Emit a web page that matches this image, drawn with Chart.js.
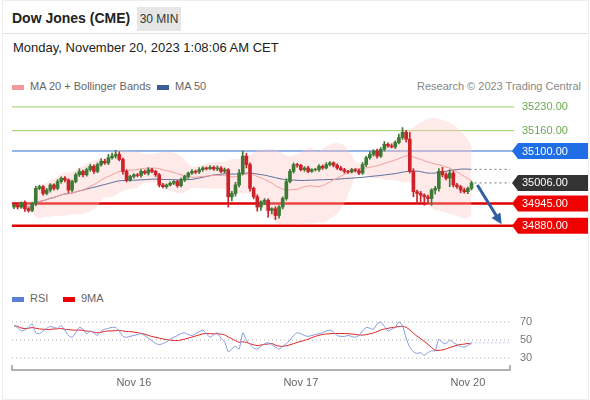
<!DOCTYPE html>
<html><head><meta charset="utf-8">
<script src="https://cdn.jsdelivr.net/npm/chart.js@4.4.0/dist/chart.umd.min.js"></script>
<style>
body{margin:0;width:590px;height:400px;background:#fff;font-family:"Liberation Sans",Arial,sans-serif;position:relative;overflow:hidden}
.frame{position:absolute;left:2px;top:0;width:585px;height:398px;border:1px solid #eee}
#title{position:absolute;left:12px;top:10px;font-size:14px;font-weight:bold;color:#222}
#tf{position:absolute;left:137px;top:7px;width:44px;height:24px;background:#e6e6e6;font-size:12px;color:#333;line-height:24px;text-align:center}
#sep{position:absolute;left:2px;top:33px;width:586px;border-top:1px solid #e3e3e3}
#date{position:absolute;left:13px;top:40px;font-size:13px;color:#222}
.leg{position:absolute;font-size:11px;color:#666;white-space:nowrap}
.sw{display:inline-block;width:12px;height:5px;vertical-align:middle;margin-right:6px}
canvas{position:absolute;left:0}
</style></head><body>
<div class="frame"></div>
<div id="title">Dow Jones (CME)</div><div id="tf">30 MIN</div><div id="sep"></div>
<div id="date">Monday, November 20, 2023 1:08:06 AM CET</div>
<div class="leg" style="left:12px;top:80px"><span class="sw" style="background:#f59a9a"></span>MA 20 + Bollinger Bands</div>
<div class="leg" style="left:157px;top:80px"><span class="sw" style="background:#3b5d9a"></span>MA 50</div>
<div class="leg" style="right:9px;top:80px;color:#888">Research © 2023 Trading Central</div>
<div class="leg" style="left:12px;top:292px"><span class="sw" style="background:#5b7fd6"></span>RSI</div>
<div class="leg" style="left:63px;top:292px"><span class="sw" style="background:#e00"></span>9MA</div>
<div style="position:absolute;left:0;top:95px;width:590px;height:185px"><canvas id="main"></canvas></div>
<div style="position:absolute;left:0;top:310px;width:590px;height:85px"><canvas id="rsi"></canvas></div>
<script>
const closes=[34940,34935,34948,34930,34925,34945,34990,34995,34975,34985,35000,34990,35010,35020,35015,34985,35010,35030,35040,35030,35045,35055,35040,35060,35070,35065,35080,35085,35090,35075,35040,35015,35025,35030,35028,35040,35035,35045,35040,35030,35000,34995,35000,35005,35010,34998,35015,35025,35035,35040,35038,35045,35050,35048,35052,35047,35050,35040,35045,34965,34975,35000,35035,35085,35060,34990,34965,34935,34950,34955,34925,34930,34910,34935,34960,35010,35040,35060,35058,35045,35050,35040,35045,35045,35055,35050,35060,35065,35058,35050,35045,35040,35038,35045,35042,35035,35060,35080,35090,35100,35085,35105,35120,35115,35112,35125,35140,35155,35135,35040,34980,34975,34970,34965,34960,34985,34990,35040,35030,35020,35035,35000,34995,34985,34980,34990,35006];
const wickUp=[3,4,2,5,3,4,6,4,3,5,4,3,6,4,5,3,4,5,8,4,5,6,4,5,8,6,10,9,12,8,4,5,4,3,4,5,4,6,4,3,4,5,3,4,3,4,5,4,3,5,4,6,4,3,5,4,6,4,5,3,6,8,10,15,8,5,4,6,3,5,4,3,6,4,5,8,6,5,4,3,4,5,3,4,5,4,6,4,3,4,5,4,3,4,3,4,6,5,8,4,6,5,8,4,6,5,10,14,6,20,8,5,6,4,5,4,6,8,12,6,10,6,5,4,6,4,5];
const wickDown=[5,6,4,8,5,4,6,4,5,4,6,5,4,5,6,8,5,4,5,6,4,5,6,4,5,4,5,4,6,4,8,6,4,5,4,5,4,6,4,5,6,4,5,3,4,5,4,5,6,4,5,4,5,4,3,4,5,4,5,30,12,8,6,5,10,8,6,12,10,8,20,10,12,8,6,5,4,5,6,4,5,4,3,4,5,4,3,4,5,4,3,5,4,3,4,5,4,6,4,5,6,4,5,4,3,5,4,6,8,5,15,30,20,25,15,20,12,8,6,5,25,6,5,8,4,6,5];
const rsiVals=[66,64,60,61,64,68,58,57,60,63,65,64,63,66,61,55,53,58,64,62,57,60,58,55,60,62,63,64,64,60,54,53,54,55,56,57,55,52,49,46,45,46,48,51,53,55,57,58,56,55,57,59,61,57,53,56,58,52,48,37,40,43,40,58,50,45,41,40,43,46,47,45,42,40,43,46,50,55,58,57,55,54,55,56,57,58,60,61,59,55,54,54,55,54,53,55,60,64,63,62,68,70,65,60,62,64,70,66,52,42,37,35,36,33,36,38,38,51,47,46,50,47,45,43,42,44,47];
const levels=[{v:35230,c:'#9ccc65',t:'35230.00',box:null,w:1},{v:35160,c:'#9ccc65',t:'35160.00',box:null,w:1},{v:35100,c:'#2f6fd6',t:'35100.00',box:'#1f6ee6',w:1.2},{v:34945,c:'#e00000',t:'34945.00',box:'#f00000',w:2.5},{v:34880,c:'#e00000',t:'34880.00',box:'#f00000',w:2.5}];
const lastPrice=35006, dateTicks=[{i:33,t:'Nov 16'},{i:79,t:'Nov 17'},{i:125,t:'Nov 20'}];
const XMIN=-0.55, XMAX=136.6;

const opens=closes.map((c,i)=>i?closes[i-1]:c-5);
const body=[],wick=[],cols=[];
closes.forEach((c,i)=>{const o=opens[i];body.push({x:i,y:[o,c===o?c+1:c]});wick.push({x:i,y:[Math.min(o,c)-wickDown[i],Math.max(o,c)+wickUp[i]]});cols.push(c>=o?'#3d7a35':'#cc2229');});
function ma(arr,n){return arr.map((_,i)=>{const s=arr.slice(Math.max(0,i-n+1),i+1);return s.reduce((a,b)=>a+b,0)/s.length;});}
const m20=ma(closes,20),m50=ma(closes,50);
const sd=closes.map((_,i)=>{const s=closes.slice(Math.max(0,i-19),i+1);const m=m20[i];return Math.sqrt(s.reduce((a,b)=>a+(b-m)**2,0)/s.length);});
const up=m20.map((m,i)=>({x:i,y:m+2*sd[i]})),lo=m20.map((m,i)=>({x:i,y:m-2*sd[i]}));

function tag(ctx,x,y,text,bg,fg){ctx.save();ctx.font='11px "Liberation Sans",Arial';if(bg){ctx.fillStyle=bg;ctx.beginPath();ctx.moveTo(x,y);ctx.lineTo(x+6,y-8);ctx.lineTo(x+76,y-8);ctx.lineTo(x+76,y+8);ctx.lineTo(x+6,y+8);ctx.closePath();ctx.fill();}
ctx.fillStyle=fg;ctx.textBaseline='middle';ctx.fillText(text,x+10,y+0.5);ctx.restore();}
const mainPlug={id:'mp',beforeDatasetsDraw(ch){const {ctx,scales:{x,y},chartArea:a}=ch;ctx.save();
levels.forEach(l=>{const py=y.getPixelForValue(l.v);ctx.strokeStyle=l.c;ctx.lineWidth=l.w;ctx.beginPath();ctx.moveTo(a.left,py);ctx.lineTo(a.right+4,py);ctx.stroke();});
ctx.setLineDash([2,3]);ctx.strokeStyle='#777';ctx.lineWidth=1;const lp=y.getPixelForValue(lastPrice);ctx.beginPath();ctx.moveTo(x.getPixelForValue(126)+3,lp);ctx.lineTo(a.right,lp);ctx.stroke();
const mp=y.getPixelForValue(m50[126]);ctx.beginPath();ctx.moveTo(x.getPixelForValue(126)+3,mp);ctx.lineTo(a.right,mp);ctx.stroke();ctx.restore();},
afterDraw(ch){const {ctx,scales:{x,y},chartArea:a}=ch;
levels.forEach(l=>tag(ctx,a.right+2,y.getPixelForValue(l.v),l.t,l.box,l.box?'#fff':'#6aa84f'));
tag(ctx,a.right+2,y.getPixelForValue(lastPrice),'35006.00','#333','#fff');
const x1=x.getPixelForValue(127.6),y1=y.getPixelForValue(35000),x2=x.getPixelForValue(134.3),y2=y.getPixelForValue(34884);
ctx.save();ctx.strokeStyle='#2f5fa0';ctx.fillStyle='#2f5fa0';ctx.lineWidth=3;ctx.beginPath();ctx.moveTo(x1,y1);const ang=Math.atan2(y2-y1,x2-x1);ctx.lineTo(x2-8*Math.cos(ang),y2-8*Math.sin(ang));ctx.stroke();
ctx.beginPath();ctx.moveTo(x2,y2);ctx.lineTo(x2-12*Math.cos(ang-0.45),y2-12*Math.sin(ang-0.45));ctx.lineTo(x2-12*Math.cos(ang+0.45),y2-12*Math.sin(ang+0.45));ctx.closePath();ctx.fill();ctx.restore();}};
new Chart(document.getElementById('main'),{data:{datasets:[
{type:'line',data:up,borderWidth:0,pointRadius:0,fill:'+1',backgroundColor:'rgba(255,195,195,0.35)',tension:0.4,order:5},
{type:'line',data:lo,borderWidth:0,pointRadius:0,fill:false,tension:0.4,order:5},
{type:'line',data:m20.map((v,i)=>({x:i,y:v})),borderColor:'#f39a9a',borderWidth:1,pointRadius:0,tension:0.3,order:4},
{type:'line',data:m50.map((v,i)=>({x:i,y:v})),borderColor:'#5a6f98',borderWidth:1,pointRadius:0,tension:0.3,order:4},
{type:'bar',data:wick,backgroundColor:cols,barThickness:1,grouped:false,order:2},
{type:'bar',data:body,backgroundColor:cols,barThickness:3,grouped:false,order:1}]},
options:{responsive:true,maintainAspectRatio:false,animation:false,layout:{padding:{left:12,right:80,top:0,bottom:0}},plugins:{legend:{display:false},tooltip:{enabled:false}},
scales:{x:{type:'linear',min:XMIN,max:XMAX,offset:false,bounds:'ticks',display:false},y:{min:34720,max:35265,display:false}}},plugins:[mainPlug]});

const rsiMA=ma(rsiVals,9);
const rsiPlug={id:'rp',beforeDatasetsDraw(ch){const {ctx,scales:{x,y},chartArea:a}=ch;ctx.save();ctx.setLineDash([1,3]);ctx.strokeStyle='#aaa';ctx.lineWidth=1;
[70,50,30].forEach(v=>{const py=y.getPixelForValue(v);ctx.beginPath();ctx.moveTo(a.left,py);ctx.lineTo(a.right,py);ctx.stroke();});
ctx.strokeStyle='#8fa6e0';const rp=y.getPixelForValue(rsiVals[126]);ctx.beginPath();ctx.moveTo(x.getPixelForValue(126),rp);ctx.lineTo(a.right,rp);ctx.stroke();ctx.restore();},
afterDraw(ch){const {ctx,scales:{x,y},chartArea:a}=ch;ctx.save();ctx.font='11px "Liberation Sans",Arial';ctx.fillStyle='#777';ctx.textBaseline='middle';
[70,50,30].forEach(v=>ctx.fillText(String(v),a.right+10,y.getPixelForValue(v)));
ctx.strokeStyle='#999';ctx.lineWidth=1.5;ctx.beginPath();ctx.moveTo(a.left,a.bottom-5);ctx.lineTo(a.left,a.bottom);ctx.lineTo(a.right,a.bottom);ctx.lineTo(a.right,a.bottom-5);ctx.stroke();
ctx.textAlign='center';ctx.fillStyle='#666';dateTicks.forEach(d=>ctx.fillText(d.t,x.getPixelForValue(d.i),a.bottom+13));ctx.restore();}};
new Chart(document.getElementById('rsi'),{type:'line',data:{datasets:[
{data:rsiVals.map((v,i)=>({x:i,y:v})),borderColor:'#7f97dc',borderWidth:1,pointRadius:0,tension:0.2},
{data:rsiMA.map((v,i)=>({x:i,y:v})),borderColor:'#e02020',borderWidth:1,pointRadius:0,tension:0.3}]},
options:{responsive:true,maintainAspectRatio:false,animation:false,layout:{padding:{left:12,right:80,top:0,bottom:25}},plugins:{legend:{display:false},tooltip:{enabled:false}},
scales:{x:{type:'linear',min:XMIN,max:XMAX,display:false},y:{min:16.7,max:83.3,display:false}}},plugins:[rsiPlug]});
</script></body></html>
